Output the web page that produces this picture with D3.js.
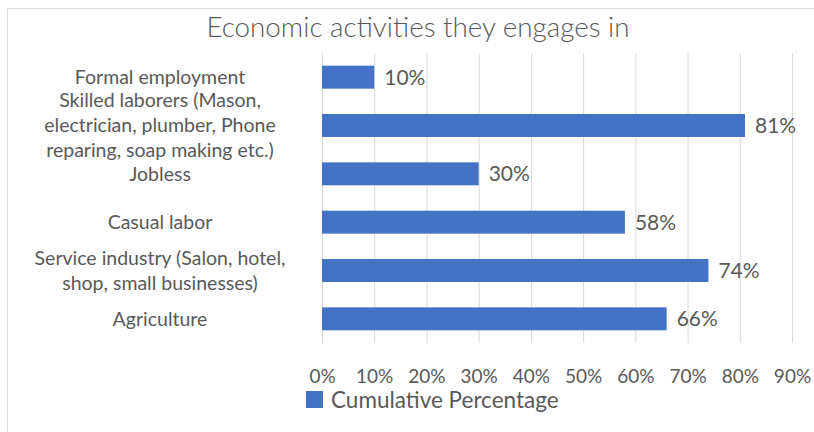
<!DOCTYPE html>
<html>
<head>
<meta charset="utf-8">
<script src="https://cdn.jsdelivr.net/npm/d3@7"></script>
<style>
  html, body { margin: 0; padding: 0; background: #ffffff; }
  svg { display: block; }
  text { font-family: Lato, "Liberation Sans", sans-serif; fill: #595959; }
</style>
</head>
<body>
<svg id="chart" width="814" height="432"></svg>
<script>
// Categories (line breaks mark where each label wraps), top to bottom
const categories = [
  "Formal employment",
  "Skilled laborers (Mason,\nelectrician, plumber, Phone\nreparing, soap making etc.)",
  "Jobless",
  "Casual labor",
  "Service industry (Salon, hotel,\nshop, small businesses)",
  "Agriculture"
];
const values = [10, 81, 30, 58, 74, 66];
const ticks = [0, 10, 20, 30, 40, 50, 60, 70, 80, 90];
const seriesName = "Cumulative Percentage";
const title = "Economic activities they engages in";

const data = categories.map((c, i) => ({ category: c, value: values[i] }));

const svg = d3.select("#chart");
const barColor = "#4472C4";
const gridColor = "#D9D9D9";

// Chart border
svg.append("rect")
  .attr("x", 7.5).attr("y", 8.5)
  .attr("width", 830).attr("height", 440)
  .attr("fill", "#fff")
  .attr("stroke", "#D9D9D9");

const plot = { left: 322, right: 792, top: 53, bottom: 343 };

const x = d3.scaleLinear().domain([0, 90]).range([plot.left, plot.right]);
const y = d3.scaleBand()
  .domain(categories)
  .range([plot.top, plot.bottom])
  .paddingInner(0.525)
  .paddingOuter(0.2625);

// Title
svg.append("text")
  .attr("x", 418).attr("y", 37)
  .attr("text-anchor", "middle")
  .style("font-size", "27.8px")
  .style("font-weight", 300)
  .text(title);

// Vertical gridlines
svg.append("g")
  .selectAll("line")
  .data(ticks)
  .join("line")
  .attr("x1", d => x(d) + 0.5).attr("x2", d => x(d) + 0.5)
  .attr("y1", plot.top).attr("y2", plot.bottom)
  .attr("stroke", gridColor)
  .attr("stroke-width", 1);

// X axis labels
const xAxis = d3.axisBottom(x)
  .tickValues(ticks)
  .tickFormat(d => d + "%")
  .tickSize(0)
  .tickPadding(0);
const gx = svg.append("g")
  .attr("transform", `translate(0,${plot.bottom + 40})`)
  .call(xAxis);
gx.select(".domain").remove();
gx.selectAll("text")
  .attr("dy", 0)
  .style("font-size", "19px")
  .style("font-family", "Lato, sans-serif")
  .attr("fill", "#595959");

// Bars
svg.append("g")
  .selectAll("rect")
  .data(data)
  .join("rect")
  .attr("x", x(0))
  .attr("y", d => y(d.category))
  .attr("width", d => x(d.value) - x(0))
  .attr("height", y.bandwidth())
  .attr("fill", barColor);

// Value labels
svg.append("g")
  .selectAll("text")
  .data(data)
  .join("text")
  .attr("x", d => x(d.value) + 10)
  .attr("y", d => y(d.category) + y.bandwidth() / 2)
  .attr("dy", "0.35em")
  .style("font-size", "21px")
  .text(d => d.value + "%");

// Category labels (centered, multi-line)
const lineH = 25;
const catG = svg.append("g");
data.forEach(d => {
  const lines = d.category.split("\n");
  const cy = y(d.category) + y.bandwidth() / 2;
  const t = catG.append("text")
    .attr("text-anchor", "middle")
    .style("font-size", "19.5px");
  lines.forEach((ln, i) => {
    t.append("tspan")
      .attr("x", 160)
      .attr("y", cy + (i - (lines.length - 1) / 2) * lineH)
      .attr("dy", "0.35em")
      .text(ln);
  });
});

// Legend
const lg = svg.append("g").attr("transform", "translate(306,391)");
lg.append("rect").attr("width", 17).attr("height", 17).attr("fill", barColor);
lg.append("text")
  .attr("x", 25).attr("y", 9).attr("dy", "0.35em")
  .style("font-size", "22.5px")
  .text(seriesName);
</script>
</body>
</html>
